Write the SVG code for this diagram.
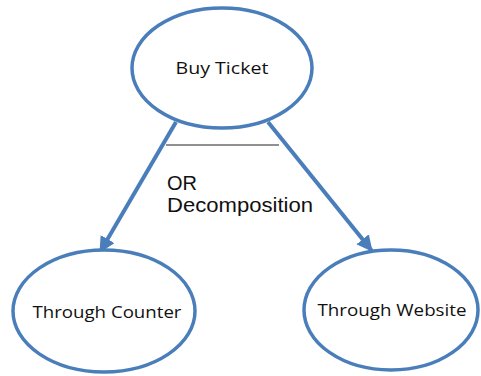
<svg xmlns="http://www.w3.org/2000/svg" width="481" height="376" viewBox="0 0 481 376">
<defs>
<marker id="arr" markerUnits="userSpaceOnUse" markerWidth="18" markerHeight="18" refX="15" refY="8" orient="auto">
<path d="M0,0 L16,8 L0,16 z" fill="#4a7ebb"/>
</marker>
<style>
.node ellipse{fill:#fff;stroke:#4a7ebb;stroke-width:3.5}
.lbl{font-family:"Open Sans","DejaVu Sans",sans-serif;font-size:17px;fill:#111;text-anchor:middle}
.conn{stroke:#4a7ebb;stroke-width:4;fill:none;marker-end:url(#arr)}
.note{font-family:"Liberation Sans",Arial,sans-serif;font-size:20px;fill:#111}
</style>
</defs>
<rect width="481" height="376" fill="#fff"/>
<g id="connectors">
<line class="conn" x1="176" y1="122" x2="100" y2="252"/>
<line class="conn" x1="268" y1="122" x2="372" y2="251"/>
<line x1="166" y1="145" x2="279" y2="145" stroke="#222" stroke-width="1"/>
</g>
<g id="buy-ticket" class="node">
<ellipse cx="222" cy="68" rx="90" ry="60"/>
<text class="lbl" x="222" y="74" textLength="93" lengthAdjust="spacingAndGlyphs">Buy Ticket</text>
</g>
<g id="through-counter" class="node">
<ellipse cx="104" cy="311" rx="91" ry="61"/>
<text class="lbl" x="107" y="318" textLength="149" lengthAdjust="spacingAndGlyphs">Through Counter</text>
</g>
<g id="through-website" class="node">
<ellipse cx="391" cy="310" rx="87" ry="60"/>
<text class="lbl" x="392" y="316" textLength="149" lengthAdjust="spacingAndGlyphs">Through Website</text>
</g>
<g id="or-label">
<text class="note" x="167" y="190">OR</text>
<text class="note" x="167" y="212" textLength="146" lengthAdjust="spacingAndGlyphs">Decomposition</text>
</g>
</svg>
